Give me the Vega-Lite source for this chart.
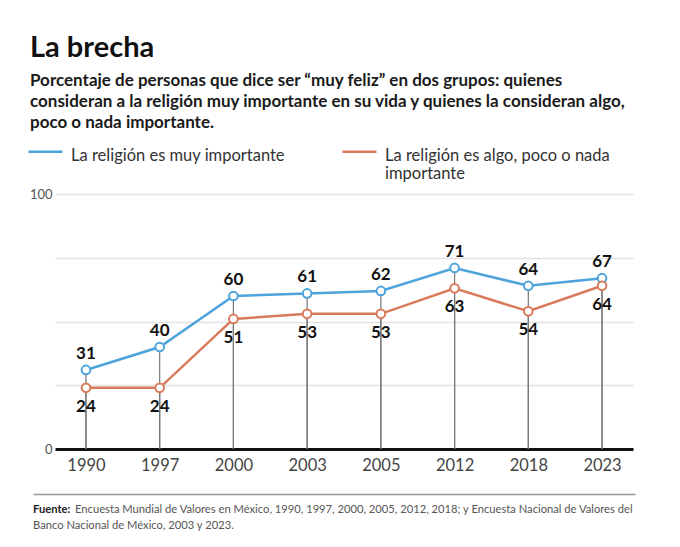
{
  "$schema": "https://vega.github.io/schema/vega-lite/v6.json",
  "padding": {"left": 27, "top": 34, "right": 10, "bottom": 5},
  "background": "white",
  "config": {"view": {"stroke": null}},
  "title": {
    "text": "La brecha",
    "subtitle": [
      "Porcentaje de personas que dice ser “muy feliz” en dos grupos: quienes",
      "consideran a la religión muy importante en su vida y quienes la consideran algo,",
      "poco o nada importante."
    ],
    "anchor": "start",
    "frame": "bounds",
    "dx": 3,
    "font": "Lato",
    "fontSize": 29,
    "fontWeight": "bold",
    "color": "#111",
    "subtitleFont": "Lato",
    "subtitleFontSize": 17,
    "subtitleFontWeight": "bold",
    "subtitleColor": "#1a1a1a",
    "subtitleLineHeight": 21,
    "subtitlePadding": 10,
    "offset": 2
  },
  "datasets": {
    "serie": [
      {"anio": "1990", "grupo": "La religión es muy importante", "valor": 31},
      {"anio": "1997", "grupo": "La religión es muy importante", "valor": 40},
      {"anio": "2000", "grupo": "La religión es muy importante", "valor": 60},
      {"anio": "2003", "grupo": "La religión es muy importante", "valor": 61},
      {"anio": "2005", "grupo": "La religión es muy importante", "valor": 62},
      {"anio": "2012", "grupo": "La religión es muy importante", "valor": 71},
      {"anio": "2018", "grupo": "La religión es muy importante", "valor": 64},
      {"anio": "2023", "grupo": "La religión es muy importante", "valor": 67},
      {"anio": "1990", "grupo": "La religión es algo, poco o nada importante", "valor": 24},
      {"anio": "1997", "grupo": "La religión es algo, poco o nada importante", "valor": 24},
      {"anio": "2000", "grupo": "La religión es algo, poco o nada importante", "valor": 51},
      {"anio": "2003", "grupo": "La religión es algo, poco o nada importante", "valor": 53},
      {"anio": "2005", "grupo": "La religión es algo, poco o nada importante", "valor": 53},
      {"anio": "2012", "grupo": "La religión es algo, poco o nada importante", "valor": 63},
      {"anio": "2018", "grupo": "La religión es algo, poco o nada importante", "valor": 54},
      {"anio": "2023", "grupo": "La religión es algo, poco o nada importante", "valor": 64}
    ]
  },
  "spacing": 20,
  "vconcat": [
    {
      "width": 578,
      "height": 255,
      "data": {"name": "serie"},
      "encoding": {
        "x": {
          "field": "anio",
          "type": "ordinal",
          "scale": {"type": "point", "padding": 0.42},
          "axis": {
            "title": null,
            "labelAngle": 0,
            "ticks": false,
            "grid": false,
            "domainColor": "#111",
            "domainWidth": 3,
            "labelFont": "Lato",
            "labelFontSize": 16.5,
            "labelColor": "#444",
            "labelPadding": 8
          }
        },
        "y": {
          "field": "valor",
          "type": "quantitative",
          "scale": {"domain": [0, 100]},
          "axis": {
            "title": null,
            "values": [0, 25, 50, 75, 100],
            "labelExpr": "datum.value == 0 || datum.value == 100 ? datum.label : ''",
            "domain": false,
            "ticks": false,
            "gridColor": "#e2e2e2",
            "gridWidth": 1.5,
            "labelFont": "Lato",
            "labelFontSize": 13,
            "labelColor": "#555",
            "labelPadding": 3
          }
        }
      },
      "layer": [
        {
          "mark": {"type": "rule", "color": "#777", "strokeWidth": 1.2},
          "encoding": {"y2": {"datum": 0}}
        },
        {
          "mark": {"type": "line", "strokeWidth": 2.5},
          "encoding": {
            "color": {
              "field": "grupo",
              "type": "nominal",
              "scale": {
                "domain": ["La religión es muy importante", "La religión es algo, poco o nada importante"],
                "range": ["#4da3db", "#d97a5b"]
              },
              "legend": {
                "title": null,
                "orient": "none",
                "legendX": -28,
                "legendY": -61,
                "padding": 0,
                "direction": "horizontal",
                "symbolType": "stroke",
                "symbolSize": 1150,
                "symbolStrokeWidth": 2.5,
                "labelFont": "Lato",
                "labelFontSize": 16.5,
                "labelColor": "#333",
                "labelOffset": 7,
                "labelBaseline": "middle",
                "labelLimit": 400,
                "labelLineHeight": 18.5,
                "columnPadding": 52,
                "labelExpr": "datum.label == 'La religión es algo, poco o nada importante' ? ['La religión es algo, poco o nada', 'importante'] : [datum.label, ' ']",
                "encode": {"labels": {"update": {"dy": {"value": 4}}}}
              }
            }
          }
        },
        {
          "mark": {"type": "point", "filled": false, "fill": "white", "fillOpacity": 1, "size": 75, "strokeWidth": 2, "opacity": 1},
          "encoding": {
            "color": {"field": "grupo", "type": "nominal", "legend": null}
          }
        },
        {
          "transform": [{"filter": "datum.grupo == 'La religión es muy importante'"}],
          "mark": {"type": "text", "dy": -16, "font": "Lato", "fontSize": 17, "fontWeight": "bold", "color": "#111"},
          "encoding": {"text": {"field": "valor", "type": "quantitative"}}
        },
        {
          "transform": [{"filter": "datum.grupo != 'La religión es muy importante'"}],
          "mark": {"type": "text", "dy": 19, "font": "Lato", "fontSize": 17, "fontWeight": "bold", "color": "#111"},
          "encoding": {"text": {"field": "valor", "type": "quantitative"}}
        }
      ]
    },
    {
      "width": 578,
      "height": 40,
      "encoding": {
        "x": {
          "datum": 0,
          "type": "quantitative",
          "scale": {"domain": [0, 1], "range": [-22, 580]},
          "axis": {
            "orient": "top",
            "title": null,
            "labels": false,
            "ticks": false,
            "grid": false,
            "domainColor": "#999",
            "domainWidth": 1.5
          }
        },
        "y": {
          "field": "linea",
          "type": "ordinal",
          "scale": {"type": "point", "domain": [1, 2], "range": [16, 32], "padding": 0},
          "axis": null
        }
      },
      "layer": [
        {
          "data": {"values": [{"linea": 1, "texto": "Fuente:"}]},
          "mark": {"type": "text", "align": "left", "font": "Lato", "fontSize": 11.2, "fontWeight": "bold", "color": "#222"},
          "encoding": {"text": {"field": "texto"}}
        },
        {
          "data": {"values": [{"linea": 1, "texto": "Encuesta Mundial de Valores en México, 1990, 1997, 2000, 2005, 2012, 2018; y Encuesta Nacional de Valores del"}]},
          "mark": {"type": "text", "align": "left", "dx": 42, "font": "Lato", "fontSize": 11.2, "color": "#555"},
          "encoding": {"text": {"field": "texto"}}
        },
        {
          "data": {"values": [{"linea": 2, "texto": "Banco Nacional de México, 2003 y 2023."}]},
          "mark": {"type": "text", "align": "left", "font": "Lato", "fontSize": 11.2, "color": "#555"},
          "encoding": {"text": {"field": "texto"}}
        }
      ]
    }
  ]
}
